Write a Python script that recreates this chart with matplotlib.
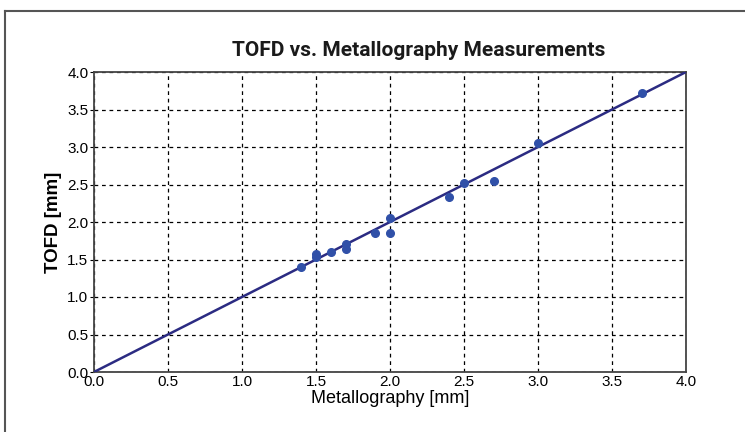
import matplotlib
matplotlib.use("Agg")
import matplotlib.pyplot as plt
from matplotlib.lines import Line2D
import numpy as np

metallography = [1.4, 1.5, 1.5, 1.6, 1.7, 1.7, 1.9, 2.0, 2.0, 2.4, 2.5, 2.7, 3.0, 3.7]
tofd = [1.40, 1.53, 1.57, 1.60, 1.64, 1.71, 1.85, 1.85, 2.06, 2.34, 2.52, 2.55, 3.06, 3.72]
fit_x = [0.0, 4.0]
fit_y = [0.0, 4.0]
ticks = np.arange(0, 4.01, 0.5)

plt.rcParams["font.family"] = ["Liberation Sans", "DejaVu Sans"]

fig = plt.figure(figsize=(7.45, 4.32), dpi=100)
ax = fig.add_axes([94 / 745, 1 - 372 / 432, 592 / 745, 300 / 432])

ax.plot(fit_x, fit_y, color="#2b2b82", linewidth=1.8, zorder=3)
ax.plot(metallography, tofd, "o", color="#3050a8", markersize=5.5, zorder=4)

ax.set_xlim(0, 4)
ax.set_ylim(0, 4)
ax.set_xticks(ticks)
ax.set_yticks(ticks)
ax.set_xticklabels(["%.1f" % t for t in ticks], fontsize=11)
ax.set_yticklabels(["%.1f" % t for t in ticks], fontsize=11)
ax.tick_params(axis="x", length=0, pad=2)
ax.tick_params(axis="y", direction="out", length=3, pad=1)
ax.grid(True, color="black", linestyle=(0, (3, 3)), linewidth=0.9)
for s in ax.spines.values():
    s.set_color("#444444")
    s.set_linewidth(1.3)

fig.text(419 / 745, 1 - 50 / 432, "TOFD vs. Metallography Measurements", fontsize=15,
         fontweight="bold", family=["Roboto", "DejaVu Sans"], ha="center", va="center",
         color="#1a1a1a")
ax.set_xlabel("Metallography [mm]", fontsize=13, labelpad=1)
ax.set_ylabel("TOFD [mm]", fontsize=13.5, fontweight="bold", labelpad=4)

# outer frame of the figure panel
fig.add_artist(Line2D([5 / 745, 5 / 745], [0, 1 - 11 / 432], color="#555555", linewidth=1.5))
fig.add_artist(Line2D([5 / 745, 1], [1 - 11 / 432, 1 - 11 / 432], color="#555555", linewidth=1.5))

fig.savefig("out.png", dpi=100)
